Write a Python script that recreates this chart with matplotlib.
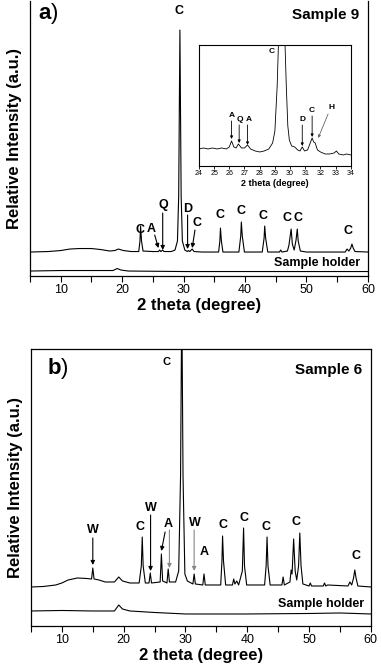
import matplotlib
matplotlib.use("Agg")
import matplotlib.pyplot as plt

plt.rcParams['font.family'] = ['Liberation Sans', 'DejaVu Sans']
plt.rcParams['mathtext.fontset'] = 'custom'
plt.rcParams['mathtext.bf'] = 'Liberation Sans:bold'
plt.rcParams['mathtext.rm'] = 'Liberation Sans'

# sample 9 pattern (2 theta, relative intensity, stacked)
sample9_x = [5, 8, 10, 11.5, 13, 15, 16.5, 18, 18.8, 19.4, 20.2, 21.5, 22.7, 22.9, 23.0, 23.15, 23.4,
             25.0, 25.9, 26.1, 26.3, 26.6, 26.8, 28.0, 28.6, 29.0, 29.2, 29.4, 29.6, 29.8, 30.2, 30.6,
             30.8, 31.0, 31.4, 31.7, 33, 35.7, 35.9, 36.0, 36.15, 36.4, 39.0, 39.3, 39.4, 39.55, 39.9,
             42.8, 43.1, 43.2, 43.35, 43.7, 45.6, 45.8, 46.0, 46.9, 47.15, 47.5, 47.7, 48.0, 48.3, 48.5,
             48.65, 49.0, 50, 56.3, 56.6, 56.9, 57.2, 57.4, 57.6, 57.9, 60]
sample9_y = [24, 24.5, 25.5, 27, 27.5, 27.5, 26.5, 25, 25.5, 27, 25.5, 24.5, 24.5, 35, 50, 35, 25,
             24.5, 24.5, 26, 24.5, 26, 24.5, 24.5, 26, 35, 80, 246, 80, 35, 26, 24.5,
             25.5, 24.5, 27, 24.5, 24, 24, 35, 48, 35, 24, 24, 40, 54, 40, 24,
             24, 38, 50, 38, 24, 24, 26, 24, 25, 31, 47, 32, 26, 36, 47,
             35, 25, 24, 24, 27, 25, 28, 32, 28, 24.5, 24]
holder9_x = [5, 10, 15, 18.5, 19.2, 19.8, 21, 30, 40, 50, 60]
holder9_y = [5, 5.5, 5.5, 5.5, 7.5, 6, 5, 4.5, 4.5, 4.5, 4.5]

# inset: zoom of sample 9, 24-34 degree
inset_x = [24.0, 24.3, 24.6, 24.9, 25.2, 25.5, 25.8, 26.0, 26.15, 26.3, 26.45, 26.6, 26.8, 27.0, 27.2,
           27.4, 27.7, 28.0, 28.3, 28.6, 28.85, 29.0, 29.15, 29.25, 29.65, 29.75, 29.85, 29.95, 30.1,
           30.3, 30.5, 30.65, 30.8, 30.95, 31.15, 31.3, 31.45, 31.55, 31.65, 31.8, 32.0, 32.3, 32.6,
           32.9, 33.05, 33.2, 33.5, 33.7, 34.0]
inset_y = [17, 18, 17, 18, 17, 18, 17, 19, 25, 19, 18, 22, 18, 18, 21,
           17, 15, 14, 15, 17, 23, 35, 80, 130, 130, 80, 40, 26, 20,
           19, 16, 15, 19, 15, 16, 22, 28, 24, 23, 16, 14, 12, 12,
           13, 15, 12, 11, 12, 11]

# sample 6 pattern
sample6_x = [5, 7, 9, 10, 11, 12.5, 14, 14.8, 15.0, 15.2, 16, 17, 18.5, 19.2, 19.8, 21, 22.5, 22.85,
             23.0, 23.15, 23.5, 24.1, 24.3, 24.5, 25.9, 26.1, 26.3, 27.0, 27.2, 27.4, 28.4, 28.9, 29.2,
             29.4, 29.6, 29.9, 30.3, 31.2, 31.4, 31.6, 32.8, 33.0, 33.2, 35.7, 35.9, 36.0, 36.15, 36.5,
             37.6, 37.8, 38.0, 38.3, 38.6, 39.2, 39.4, 39.55, 39.9, 42.8, 43.05, 43.2, 43.35, 43.7,
             45.6, 45.8, 46.0, 46.9, 47.1, 47.25, 47.5, 47.75, 48.0, 48.3, 48.5, 48.7, 49.0, 50.0,
             50.2, 50.4, 52.3, 52.5, 52.7, 53, 56.3, 56.6, 56.9, 57.2, 57.4, 57.6, 57.9, 60]
sample6_y = [39, 39.5, 41, 43, 46, 48, 47.5, 47, 58, 47, 46, 44, 44, 49, 45, 43, 43, 60,
             89, 60, 43, 43, 53, 43, 44, 72, 45, 43, 57, 44, 44, 55, 150,
             330, 150, 52, 45, 42, 52, 42, 41, 52, 41, 41, 65, 90, 65, 41,
             41, 47, 42, 45, 41, 55, 98, 60, 41, 41, 60, 89, 60, 41,
             41, 49, 41, 44, 56, 52, 87, 55, 46, 60, 93, 60, 42, 40,
             43, 40, 40, 43, 40, 41, 40, 44, 41, 48, 56, 48, 40, 39]
holder6_x = [5, 10, 15, 18.5, 19.2, 19.8, 21, 25, 30, 40, 50, 55, 60]
holder6_y = [15, 15.5, 15, 15, 21, 17, 15, 13.5, 12, 12, 12.5, 13, 12]

fig = plt.figure(figsize=(3.81, 6.69), dpi=100)

lbl = dict(fontsize=9, fontweight='bold', ha='center', va='center')
arr = dict(arrowstyle='-|>', lw=0.8, color='black', mutation_scale=6, shrinkA=0, shrinkB=0)
arr_g = dict(arrowstyle='-|>', lw=0.8, color='#888888', mutation_scale=6, shrinkA=0, shrinkB=0)


def style_axes(ax, ymax):
    ax.set_xlim(5, 60)
    ax.set_ylim(0, ymax)
    ax.set_yticks([])
    ax.set_xticks([10, 20, 30, 40, 50, 60])
    ax.set_xticks([5, 15, 25, 35, 45, 55], minor=True)
    ax.tick_params(axis='x', which='both', direction='out', length=4, width=0.8, labelsize=9, pad=2)
    ax.set_xlabel('2 theta (degree)', fontsize=12, fontweight='bold', labelpad=1)
    for s in ax.spines.values():
        s.set_linewidth(0.9)


# ---- panel a
axa = fig.add_axes([0.0787, 0.5874, 0.887, 0.411])
axa.plot(sample9_x, sample9_y, color='black', lw=0.8)
axa.plot(holder9_x, holder9_y, color='black', lw=0.8)
style_axes(axa, 275)
axa.spines['top'].set_visible(False)
axa.text(6.3, 263, r'$\mathbf{a}$)', fontsize=16, ha='left', va='center')
axa.text(58.6, 261, 'Sample 9', fontsize=11, fontweight='bold', ha='right', va='center')
axa.text(58.8, 13, 'Sample holder', fontsize=9, fontweight='bold', ha='right', va='center')
axa.text(29.2, 265, 'C', **lbl)
for x, y in [(22.9, 46), (35.9, 61), (39.3, 65), (42.9, 60), (46.8, 58), (48.7, 58), (56.8, 45)]:
    axa.text(x, y, 'C', **lbl)
axa.text(24.8, 47, 'A', **lbl)
axa.annotate('', xy=(25.9, 28), xytext=(25.3, 41), arrowprops=arr)
axa.text(26.7, 71, 'Q', **lbl)
axa.annotate('', xy=(26.6, 26), xytext=(26.6, 63), arrowprops=arr)
axa.text(30.65, 67, 'D', **lbl)
axa.annotate('', xy=(30.65, 27), xytext=(30.65, 61), arrowprops=arr)
axa.text(32.2, 53, 'C', **lbl)
axa.annotate('', xy=(31.4, 28), xytext=(31.85, 46), arrowprops=arr)
axa.set_ylabel('Relative Intensity (a.u.)', fontsize=12, fontweight='bold', labelpad=6)

# ---- inset
axi = fig.add_axes([0.522, 0.7519, 0.399, 0.1809])
axi.plot(inset_x, inset_y, color='black', lw=0.6)
axi.set_xlim(24, 34)
axi.set_ylim(0, 121)
axi.set_yticks([])
axi.set_xticks(range(24, 35))
axi.tick_params(axis='x', direction='out', length=2, width=0.6, labelsize=5, pad=1)
axi.set_xlabel('2 theta (degree)', fontsize=6.5, fontweight='bold', labelpad=1)
for s in axi.spines.values():
    s.set_linewidth(0.8)
ilbl = dict(fontsize=6, fontweight='bold', ha='center', va='center')
iarr = dict(arrowstyle='-|>', lw=0.6, color='black', mutation_scale=4, shrinkA=0, shrinkB=0)
axi.text(28.78, 114, 'C', **ilbl)
axi.text(26.15, 50, 'A', **ilbl)
axi.annotate('', xy=(26.15, 27), xytext=(26.15, 45), arrowprops=iarr)
axi.text(26.7, 46, 'Q', **ilbl)
axi.annotate('', xy=(26.65, 23), xytext=(26.65, 41), arrowprops=iarr)
axi.text(27.3, 46, 'A', **ilbl)
axi.annotate('', xy=(27.2, 21), xytext=(27.2, 41), arrowprops=iarr)
axi.text(30.8, 46, 'D', **ilbl)
axi.annotate('', xy=(30.8, 20), xytext=(30.8, 41), arrowprops=iarr)
axi.text(31.4, 55, 'C', **ilbl)
axi.annotate('', xy=(31.45, 29), xytext=(31.45, 50), arrowprops=iarr)
axi.text(32.7, 58, 'H', **ilbl)
axi.annotate('', xy=(31.85, 28), xytext=(32.5, 52), arrowprops=dict(iarr, color='#666666'))

# ---- panel b
axb = fig.add_axes([0.0814, 0.0643, 0.892, 0.414])
axb.plot(sample6_x, sample6_y, color='black', lw=0.8)
axb.plot(holder6_x, holder6_y, color='black', lw=0.8)
style_axes(axb, 277)
axb.text(7.6, 258, r'$\mathbf{b}$)', fontsize=16, ha='left', va='center')
axb.text(58.6, 256, 'Sample 6', fontsize=11, fontweight='bold', ha='right', va='center')
axb.text(58.9, 22, 'Sample holder', fontsize=9, fontweight='bold', ha='right', va='center')
axb.text(27.0, 264, 'C', fontsize=8, fontweight='bold', ha='center', va='center')
for x, y in [(22.6, 99), (36.0, 101), (39.45, 108), (43.1, 99), (47.9, 104), (57.6, 70)]:
    axb.text(x, y, 'C', **lbl)
axb.text(15.0, 96, 'W', **lbl)
axb.annotate('', xy=(15.0, 61), xytext=(15.0, 88), arrowprops=arr)
axb.text(24.4, 118, 'W', **lbl)
axb.annotate('', xy=(24.35, 55), xytext=(24.35, 111), arrowprops=arr)
axb.text(27.2, 102, 'A', **lbl)
axb.annotate('', xy=(26.1, 75), xytext=(26.7, 94), arrowprops=arr)
axb.annotate('', xy=(27.4, 58), xytext=(27.4, 96), arrowprops=arr_g)
axb.text(31.5, 103, 'W', **lbl)
axb.annotate('', xy=(31.4, 55), xytext=(31.4, 96), arrowprops=arr_g)
axb.text(33.0, 74, 'A', **lbl)
axb.set_ylabel('Relative Intensity (a.u.)', fontsize=12, fontweight='bold', labelpad=6)

fig.savefig('out.png', dpi=100)
